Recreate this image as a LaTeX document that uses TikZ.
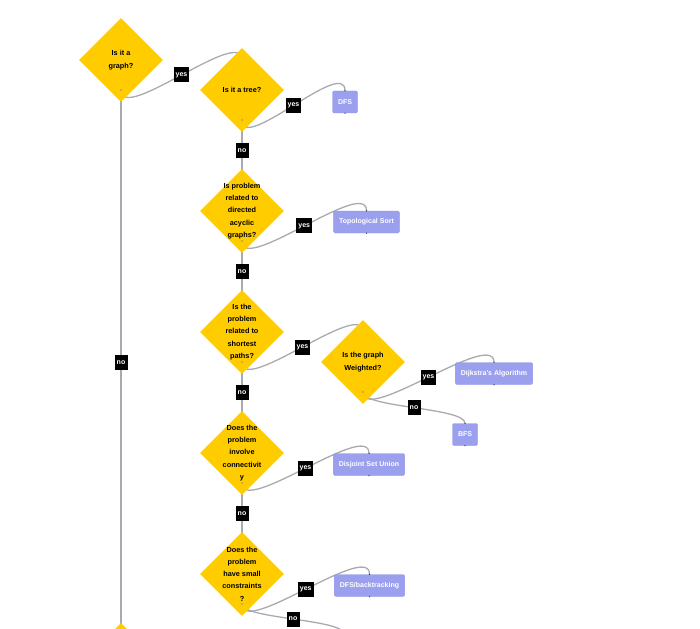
\documentclass[tikz,border=0pt]{standalone}
\usepackage{fontspec}
\setmainfont{Liberation Sans}
\usetikzlibrary{shapes.geometric,calc,backgrounds}
\definecolor{gold}{HTML}{FFCC00}
\definecolor{algo}{HTML}{9AA0EE}
\definecolor{algoline}{HTML}{8C93E6}
\definecolor{wire}{HTML}{A9A9B1}
\definecolor{handle}{HTML}{8A8FA8}
\begin{document}
\begin{tikzpicture}[x=1pt, y=-1pt,
  question/.style={diamond, fill=gold, minimum width=84pt, minimum height=84pt, inner sep=0pt},
  qtext/.style={align=center, font=\bfseries\fontsize{7.3}{12.3}\selectfont, inner sep=0pt},
  answer/.style={draw=algoline, fill=algo, text=white, rounded corners=1.5pt, minimum height=22pt,
    inner xsep=5.5pt, font=\bfseries\fontsize{7}{8}\selectfont},
  wireline/.style={draw=wire, line width=1.3pt},
  tag/.style={fill=black, text=white, inner sep=2pt, minimum width=13pt, minimum height=15pt,
    font=\bfseries\fontsize{7}{8}\selectfont}]
  \useasboundingbox (0,0) rectangle (700,628);
  \clip (0,0) rectangle (700,628);

  % questions
  \node[question, label={[qtext]center:{Is it a\\graph?}}] (d1) at (121,60) {};
  \node[question, label={[qtext]center:{Is it a tree?}}] (d2) at (242,90) {};
  \node[question, label={[qtext]center:{Is problem\\related to\\directed\\acyclic\\graphs?}}] (d3) at (242,211) {};
  \node[question, label={[qtext]center:{Is the\\problem\\related to\\shortest\\paths?}}] (d4) at (242,332) {};
  \node[question, label={[qtext]center:{Is the graph\\Weighted?}}] (d5) at (363,362) {};
  \node[question, label={[qtext]center:{Does the\\problem\\involve\\connectivit\\y}}] (d6) at (242,453) {};
  \node[question, label={[qtext]center:{Does the\\problem\\have small\\constraints\\?}}] (d7) at (242,574) {};
  \node[question] (d8) at (121,665) {};

  % answers
  \node[answer] (dfs) at (345,102) {DFS};
  \node[answer] (topo) at (366.5,222) {Topological Sort};
  \node[answer] (dijk) at (494,373.5) {Dijkstra's Algorithm};
  \node[answer] (bfs) at (465,434.5) {BFS};
  \node[answer] (dsu) at (369,464.5) {Disjoint Set Union};
  \node[answer] (back) at (369.5,585.5) {DFS/backtracking};

  % handles
  \foreach \q in {1,...,8} {
    \coordinate (d\q s) at ($(d\q)+(0,30)$);
    \coordinate (d\q t) at ($(d\q)+(0,-30)$);
  }
  \coordinate (more) at (344,634);

  \begin{scope}[on background layer]
    \draw[wireline] (d1s) .. controls ($(d1s)+(0,34.8)$) and ($(d2t)-(0,34.8)$) .. (d2t) node[tag, pos=0.5] {yes};
    \draw[wireline] (d2s) .. controls ($(d2s)+(0,34.2)$) and ($(dfs.north)-(0,34.2)$) .. (dfs.north) node[tag, pos=0.5] {yes};
    \draw[wireline] (d3s) .. controls ($(d3s)+(0,34.2)$) and ($(topo.north)-(0,34.2)$) .. (topo.north) node[tag, pos=0.5] {yes};
    \draw[wireline] (d4s) .. controls ($(d4s)+(0,34.2)$) and ($(d5t)-(0,34.2)$) .. (d5t) node[tag, pos=0.5] {yes};
    \draw[wireline] (d5s) .. controls ($(d5s)+(0,33.7)$) and ($(dijk.north)-(0,33.7)$) .. (dijk.north) node[tag, pos=0.5] {yes};
    \draw[wireline] (d5s) .. controls ($(d5s)+(0,16)$) and ($(bfs.north)-(0,16)$) .. (bfs.north) node[tag, pos=0.5] {no};
    \draw[wireline] (d6s) .. controls ($(d6s)+(0,33.7)$) and ($(dsu.north)-(0,33.7)$) .. (dsu.north) node[tag, pos=0.5] {yes};
    \draw[wireline] (d7s) .. controls ($(d7s)+(0,33.7)$) and ($(back.north)-(0,33.7)$) .. (back.north) node[tag, pos=0.5] {yes};
    \draw[wireline] (d7s) .. controls ($(d7s)+(0,15)$) and ($(more)-(0,15)$) .. (more) node[tag, pos=0.5] {no};

    \draw[wireline] (d1s) -- (d8t) node[tag, midway] {no};
    \draw[wireline] (d2s) -- (d3t) node[tag, midway] {no};
    \draw[wireline] (d3s) -- (d4t) node[tag, midway] {no};
    \draw[wireline] (d4s) -- (d6t) node[tag, midway] {no};
    \draw[wireline] (d6s) -- (d7t) node[tag, midway] {no};
  \end{scope}

  % handle dots
  \foreach \q in {1,...,7} \fill[handle] (d\q s) circle (0.8pt);
  \foreach \a in {dfs,topo,dijk,bfs,dsu,back} {
    \fill[black!80] (\a.north) circle (0.7pt);
    \fill[black!80] (\a.south) circle (0.7pt);
  }
\end{tikzpicture}
\end{document}
